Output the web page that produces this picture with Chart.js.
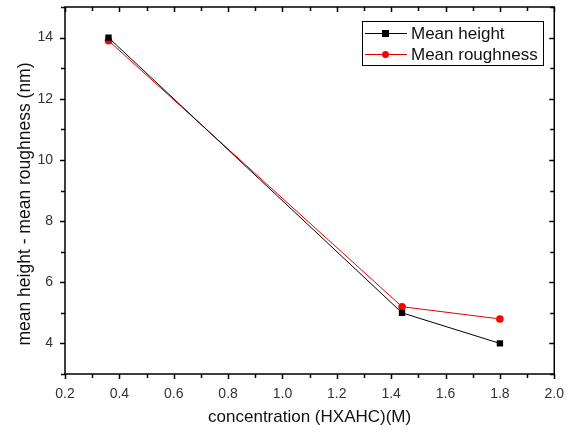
<!DOCTYPE html>
<html>
<head>
<meta charset="utf-8">
<script src="https://cdn.jsdelivr.net/npm/chart.js@4"></script>
<style>
  html, body { margin: 0; padding: 0; background: #fff; }
  #wrap { width: 576px; height: 432px; }
</style>
</head>
<body>
<div id="wrap"><canvas id="graph" width="576" height="432"></canvas></div>
<script>
var concentration = [0.36, 1.44, 1.8];
var meanHeight = [14.0, 5.0, 4.0];
var meanRoughness = [13.9, 5.2, 4.8];
var seriesNames = ["Mean height", "Mean roughness"];
var xTickValues = [0.2, 0.4, 0.6, 0.8, 1.0, 1.2, 1.4, 1.6, 1.8, 2.0];
var xTickLabels = ["0.2", "0.4", "0.6", "0.8", "1.0", "1.2", "1.4", "1.6", "1.8", "2.0"];
var yTickValues = [4, 6, 8, 10, 12, 14];
var yTickLabels = ["4", "6", "8", "10", "12", "14"];
var yTitle = "mean height - mean roughness (nm)";

var FONT = "'Liberation Sans', Arial, sans-serif";

function points(xs, ys) {
    return xs.map(function(x, i) { return { x: x, y: ys[i] }; });
}

// frame, ticks (outward on left/bottom, inward on top/right), y title and the boxed legend
var framePlugin = {
    id: "frame",
    afterDraw: function(chart) {
        var ctx = chart.ctx;
        var a = chart.chartArea;
        var xs = chart.scales.x;
        var ys = chart.scales.y;
        ctx.save();
        ctx.strokeStyle = "#000";
        ctx.lineWidth = 1.5;
        ctx.strokeRect(a.left, a.top, a.right - a.left, a.bottom - a.top);

        ctx.beginPath();
        for (var i = 0; i <= 18; i++) {
            var v = 0.2 + i * 0.1;
            var px = Math.round(xs.getPixelForValue(v)) + 0.5;
            var len = (i % 2 === 0) ? 5 : 4;
            ctx.moveTo(px, a.bottom); ctx.lineTo(px, a.bottom + len);
            ctx.moveTo(px, a.top); ctx.lineTo(px, a.top + len);
        }
        for (var j = 3; j <= 15; j++) {
            var py = Math.round(ys.getPixelForValue(j)) + 0.5;
            var l = (j % 2 === 0) ? 5 : 4;
            ctx.moveTo(a.left, py); ctx.lineTo(a.left - l, py);
            ctx.moveTo(a.right, py); ctx.lineTo(a.right - l, py);
        }
        ctx.stroke();

        // y title, centred on the figure rather than the axis
        ctx.save();
        ctx.translate(25, 204);
        ctx.rotate(-Math.PI / 2);
        ctx.font = "17.5px " + FONT;
        ctx.fillStyle = "#111";
        ctx.textAlign = "center";
        ctx.textBaseline = "middle";
        ctx.fillText(yTitle, 0, 0);
        ctx.restore();

        // legend
        var bx = 362, by = 21, bw = 181, bh = 44;
        ctx.fillStyle = "#fff";
        ctx.fillRect(bx, by, bw, bh);
        ctx.lineWidth = 1;
        ctx.strokeStyle = "#000";
        ctx.strokeRect(bx + 0.5, by + 0.5, bw, bh);
        ctx.font = "17px " + FONT;
        ctx.textBaseline = "middle";
        chart.data.datasets.forEach(function(ds, k) {
            var cy = by + 12 + k * 21;
            ctx.strokeStyle = ds.borderColor;
            ctx.lineWidth = 1;
            ctx.beginPath();
            ctx.moveTo(bx + 3, cy + 0.5);
            ctx.lineTo(bx + 45, cy + 0.5);
            ctx.stroke();
            ctx.fillStyle = ds.pointBackgroundColor;
            if (ds.pointStyle === "rect") {
                ctx.fillRect(bx + 20, cy - 3, 7, 7);
            } else {
                ctx.beginPath();
                ctx.arc(bx + 23.5, cy + 0.5, 3.5, 0, Math.PI * 2);
                ctx.fill();
            }
            ctx.fillStyle = "#111";
            ctx.fillText(ds.label, bx + 49, cy + 1);
        });
        ctx.restore();
    }
};

var chart = new Chart(document.getElementById("graph").getContext("2d"), {
    type: "scatter",
    data: {
        datasets: [
            {
                label: seriesNames[0],
                data: points(concentration, meanHeight),
                showLine: true,
                borderColor: "#000",
                backgroundColor: "#000",
                pointBackgroundColor: "#000",
                pointBorderColor: "#000",
                borderWidth: 1,
                pointStyle: "rect",
                pointRadius: 4.5,
                pointBorderWidth: 0
            },
            {
                label: seriesNames[1],
                data: points(concentration, meanRoughness),
                showLine: true,
                borderColor: "#e00000",
                backgroundColor: "#ff0000",
                pointBackgroundColor: "#ff0000",
                pointBorderColor: "#ff0000",
                borderWidth: 1,
                pointStyle: "circle",
                pointRadius: 3.8,
                pointBorderWidth: 0
            }
        ]
    },
    options: {
        responsive: false,
        animation: false,
        layout: { padding: { top: 7, right: 20, left: 0, bottom: 0 } },
        plugins: {
            legend: { display: false },
            tooltip: { enabled: false }
        },
        scales: {
            x: {
                type: "linear",
                min: 0.2,
                max: 2.0,
                grid: { display: false, drawTicks: false },
                border: { display: false },
                afterBuildTicks: function(s) {
                    s.ticks = xTickValues.map(function(v) { return { value: v }; });
                },
                ticks: {
                    autoSkip: false,
                    maxRotation: 0,
                    padding: 12,
                    color: "#333",
                    font: { family: FONT, size: 14 },
                    callback: function(v, i) { return xTickLabels[i]; }
                },
                title: {
                    display: true,
                    text: "concentration (HXAHC)(M)",
                    color: "#111",
                    font: { family: FONT, size: 17 },
                    padding: { top: 4 }
                },
                afterFit: function(s) { s.height = 58; }
            },
            y: {
                type: "linear",
                min: 3,
                max: 15,
                grid: { display: false, drawTicks: false },
                border: { display: false },
                afterBuildTicks: function(s) {
                    s.ticks = yTickValues.map(function(v) { return { value: v }; });
                },
                ticks: {
                    autoSkip: false,
                    padding: 12,
                    color: "#333",
                    font: { family: FONT, size: 14 },
                    callback: function(v, i) { return yTickLabels[i]; }
                },
                title: { display: false },
                afterFit: function(s) {
                    s.width = 65;
                    s.paddingTop = 0;
                    s.paddingBottom = 0;
                }
            }
        }
    },
    plugins: [framePlugin]
});
</script>
</body>
</html>
